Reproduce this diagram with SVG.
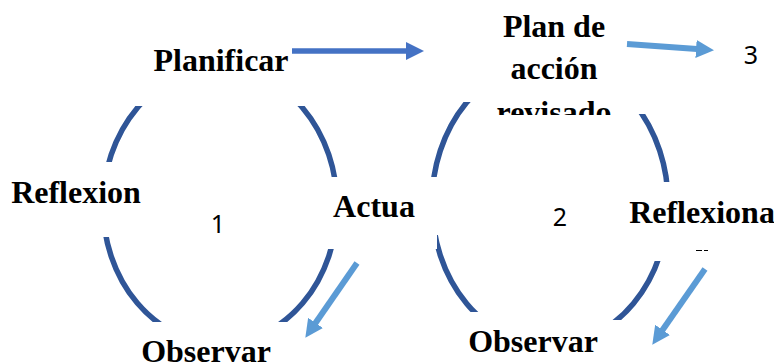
<svg xmlns="http://www.w3.org/2000/svg" width="774" height="364" viewBox="0 0 774 364">
<style>
.l{font-family:"Liberation Serif","Times New Roman",serif;font-weight:700;font-size:32px;fill:#000;text-anchor:middle}
.n{font-family:"Noto Sans","Open Sans",sans-serif;font-size:25px;fill:#000;text-anchor:middle}
.arc{fill:none;stroke:#2F5597;stroke-width:5.5}
.a1{fill:none;stroke:#4472C4;stroke-width:5.5}
.a2{fill:none;stroke:#5B9BD5;stroke-width:6}
</style>
<defs>
<marker id="h1" markerUnits="userSpaceOnUse" markerWidth="20" markerHeight="18" refX="8" refY="9" orient="auto"><path d="M0 0L18 9L0 18Z" fill="#4472C4"/></marker>
<marker id="h2" markerUnits="userSpaceOnUse" markerWidth="20" markerHeight="18" refX="8" refY="9" orient="auto"><path d="M0 0L18 9L0 18Z" fill="#5B9BD5"/></marker>
<clipPath id="c1"><path d="M100 106H220V162H100ZM220 106H345V177H220ZM95 237H220V322H95ZM220 249H345V322H220Z"/></clipPath>
<clipPath id="c2"><path d="M420 102H550V177H420ZM550 114H675V182H550ZM437 235H550V312H475V249H437ZM434 249H475V312H434ZM550 261H675V320H550Z"/></clipPath>
<clipPath id="c3"><rect x="480" y="90" width="150" height="25"/></clipPath>
</defs>
<g id="connectors">
<ellipse class="arc" cx="220" cy="205.500" rx="117" ry="138" clip-path="url(#c1)"/>
<ellipse class="arc" cx="550" cy="203" rx="118" ry="142" clip-path="url(#c2)"/>
<path class="a1" d="M292 51H414" marker-end="url(#h1)"/>
<path class="a2" d="M627 44L704 49.500" marker-end="url(#h2)"/>
<path class="a2" d="M357 263L311 329.500" marker-end="url(#h2)"/>
<path class="a2" d="M705 269L658 336.500" marker-end="url(#h2)"/>
<path d="M696 250.500H702M704 250.500H708" stroke="#000" stroke-width="1" fill="none"/>
</g>
<g id="planificar"><text class="l" x="221" y="71">Planificar</text></g>
<g id="plan"><text class="l" x="554" y="37">Plan de</text><text class="l" x="554" y="79">acción</text><text class="l" x="554" y="123" clip-path="url(#c3)">revisado</text></g>
<g id="reflexion"><text class="l" x="76" y="203">Reflexion</text></g>
<g id="actua"><text class="l" x="374" y="217">Actua</text></g>
<g id="observar1"><text class="l" x="206" y="362">Observar</text></g>
<g id="observar2"><text class="l" x="533" y="352">Observar</text></g>
<g id="reflexiona"><text class="l" x="702" y="223">Reflexiona</text></g>
<g id="n1"><text class="n" x="218" y="233">1</text></g>
<g id="n2"><text class="n" x="560" y="226">2</text></g>
<g id="n3"><text class="n" x="751" y="64">3</text></g>
</svg>
